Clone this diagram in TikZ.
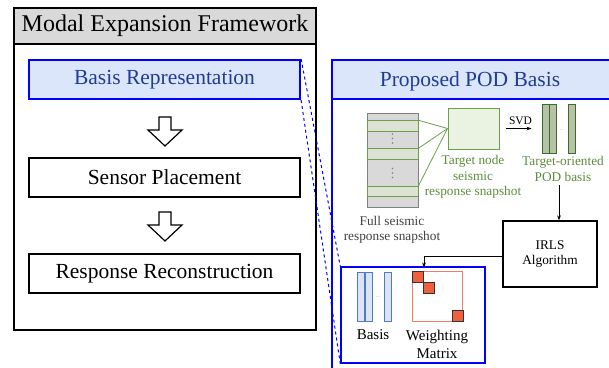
\documentclass[tikz,border=0pt]{standalone}
\usepackage{fontspec}
\setmainfont{Liberation Serif}
\usetikzlibrary{arrows.meta}

\definecolor{panelblue}{HTML}{DCE6FA}
\definecolor{textblue}{HTML}{1F3C96}
\definecolor{podgreen}{HTML}{5E8C3A}
\definecolor{boxgreen}{HTML}{6F9E4A}
\definecolor{lightgreen}{HTML}{EAF3E2}
\definecolor{rowfill}{HTML}{DCE3D4}
\definecolor{bargreen}{HTML}{B5C2A5}
\definecolor{darkgreen}{HTML}{3E6A2A}
\definecolor{snapgray}{HTML}{D9D9D9}
\definecolor{barblue}{HTML}{DAE4F4}
\definecolor{barborder}{HTML}{4F7CC4}
\definecolor{salmon}{HTML}{F07C62}
\definecolor{sqred}{HTML}{F0603C}

\begin{document}
\begin{tikzpicture}[x=1pt,y=-1pt,
  bigtxt/.style={font=\fontsize{21.5}{24}\selectfont},
  smalltxt/.style={font=\fontsize{13.3}{15.5}\selectfont, align=center},
  stepbox/.style={draw, line width=2.2pt, minimum width=271pt, minimum height=39pt, inner sep=0pt, bigtxt},
  hollow/.style={draw, line width=1.2pt, fill=white},
  row/.style={draw=boxgreen, fill=rowfill, line width=1pt, minimum width=51pt, minimum height=10.5pt, inner sep=0pt},
  podbar/.style={draw=darkgreen, fill=bargreen, line width=1pt, minimum width=7pt, minimum height=49pt, inner sep=0pt},
  basisbar/.style={draw=barborder, fill=barblue, line width=1pt, minimum width=7pt, minimum height=49pt, inner sep=0pt},
  redsq/.style={draw=black!80, fill=sqred, line width=1pt, minimum size=11pt, inner sep=0pt},
  tip/.style={-{Stealth[length=5pt]}, line width=1pt}]
  \clip (0,0) rectangle (609,367);

  % left panel
  \draw[fill=gray!30, line width=1.2pt] (14,8) rectangle (316,44);
  \draw[line width=1.2pt] (14,44) rectangle (316,330);
  \node[font=\fontsize{24}{28}\selectfont] (lefttitle) at (165,26) {Modal Expansion Framework};
  \node[stepbox, draw=blue, fill=panelblue, text=textblue] (basisrep) at (164.5,79.5) {Basis Representation};
  \node[stepbox] (sensor) at (164.5,177.5) {Sensor Placement};
  \node[stepbox] (recon) at (164.5,273.5) {Response Reconstruction};
  \foreach \a in {117,212}
    \draw[hollow] (165,\a) ++(-6,0) -- ++(12,0) -- ++(0,13) -- ++(11,0) -- ++(-17,16) -- ++(-17,-16) -- ++(11,0) -- cycle;

  % right panel
  \fill[panelblue] (332,60) rectangle (615,99);
  \draw[blue, line width=1.2pt] (332,99) -- (615,99);
  \draw[blue, line width=2.5pt] (332,375) -- (332,60) -- (615,60);
  \node[bigtxt, text=textblue] (righttitle) at (470,81) {Proposed POD Basis};

  % snapshots
  \node[draw=gray, fill=snapgray, line width=1pt, minimum width=51pt, minimum height=94pt, inner sep=0pt] (full) at (392.5,160) {};
  \node[row] (row1) at (392.5,126) {};
  \node[row] (row2) at (392.5,154) {};
  \node[row] (row3) at (392.5,191.5) {};
  \foreach \d in {134,138.5,143,168.5,173,177.5}
    \fill[gray] (392.5,\d) circle (0.8pt);
  \node[draw=boxgreen, fill=lightgreen, line width=1pt, minimum width=51pt, minimum height=41pt, inner sep=0pt] (tnode) at (473.5,128.5) {};
  \foreach \r in {row1,row2,row3}
    \draw[boxgreen, line width=0.8pt] (\r.north east) -- (tnode.west);
  \node[smalltxt, text=podgreen] (tlabel) at (473,177) {Target node\\seismic\\response snapshot};
  \node[smalltxt, text=black!75] (flabel) at (392,230) {Full seismic\\response snapshot};

  % POD basis
  \node[podbar] (pod1) at (545.5,128.5) {};
  \node[podbar] (pod2) at (553,128.5) {};
  \node[podbar] (pod3) at (571.5,128.5) {};
  \node[text=gray, font=\fontsize{5}{5}\selectfont] at (562,130) {...};
  \draw[tip, line width=1.3pt, shorten <=6pt, shorten >=10pt] (tnode.east) -- (tnode.east -| pod1.west)
    node[midway, above, font=\fontsize{11.5}{12}\selectfont] {SVD};
  \node[smalltxt, text=podgreen] (podlbl) at (563,169) {Target-oriented\\POD basis};

  % IRLS
  \node[draw, line width=1.3pt, minimum width=94pt, minimum height=66pt, smalltxt] (irls) at (550,254) {IRLS\\Algorithm};
  \draw[tip] ([xshift=-4pt]podlbl.south) -- ([xshift=-4pt]podlbl.south |- irls.north);

  % basis and weighting matrix
  \node[draw=blue, line width=1.5pt, minimum width=144pt, minimum height=96pt, inner sep=0pt] (bbox) at (413,315) {};
  \node[basisbar] (bas1) at (360.5,296.5) {};
  \node[basisbar] (bas2) at (368.5,296.5) {};
  \node[basisbar] (bas3) at (387.5,296.5) {};
  \node[text=gray, font=\fontsize{5}{5}\selectfont] at (378,297) {...};
  \node[draw=salmon, line width=1pt, minimum size=50pt, inner sep=0pt] (wmat) at (437,296) {};
  \node[redsq] (wm1) at (418,276.5) {};
  \node[redsq] (wm2) at (429,287.5) {};
  \node[redsq] (wm3) at (457.5,315.5) {};
  \node[font=\fontsize{15}{18}\selectfont] (baslbl) at (373,335) {Basis};
  \node[font=\fontsize{15}{18}\selectfont, align=center] (wlbl) at (437,344) {Weighting\\Matrix};
  \draw[tip] ([yshift=-2pt]irls.west) -| ([yshift=3pt]wm1.north east);

  % zoom lines
  \draw[blue, dashed, line width=1pt] (basisrep.north east) -- (bbox.north west);
  \draw[blue, dashed, line width=1pt] (basisrep.south east) -- (bbox.south west);
\end{tikzpicture}
\end{document}
